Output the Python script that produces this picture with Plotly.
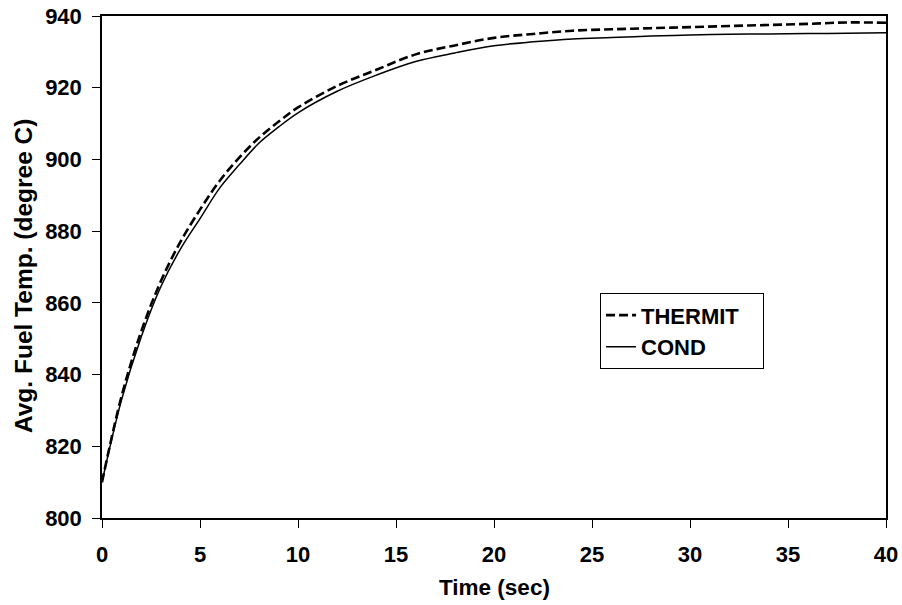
import plotly.graph_objects as go

time_s = [0, 1, 2, 3, 4, 5, 6, 7, 8, 9, 10, 12, 14, 16, 18, 20, 22, 24, 26, 28, 30, 32, 34, 36, 38, 40]
thermit = [810, 834, 852, 866, 877, 886, 894, 900.5, 906, 910.5, 914.5, 920.5, 925, 929.3, 931.8, 933.9,
           935.0, 935.9, 936.3, 936.6, 936.9, 937.2, 937.5, 937.8, 938.2, 938.1]
cond = [810, 833, 850.5, 864.5, 875, 883.5, 892, 898.5, 904.5, 909, 913, 919, 923.5, 927.3, 929.7, 931.7,
        932.8, 933.6, 934.0, 934.4, 934.7, 934.9, 935.0, 935.1, 935.2, 935.3]

x_ticks = [0, 5, 10, 15, 20, 25, 30, 35, 40]
y_ticks = [800, 820, 840, 860, 880, 900, 920, 940]
series_names = ["THERMIT\u00a0\u00a0\u00a0", "COND"]
x_title = "Time (sec)"
y_title = "Avg. Fuel Temp. (degree C)"

font_family = "Liberation Sans, Arial, sans-serif"

fig = go.Figure()
fig.add_trace(go.Scatter(x=time_s, y=thermit, mode="lines", name=series_names[0],
                         line=dict(color="black", width=2.6, dash="9px,4px", shape="spline")))
fig.add_trace(go.Scatter(x=time_s, y=cond, mode="lines", name=series_names[1],
                         line=dict(color="black", width=1.5, shape="spline")))

axis_common = dict(showline=True, mirror=True, linecolor="black", linewidth=1.5,
                   ticks="outside", ticklen=8, tickwidth=1.2, tickcolor="black",
                   showgrid=False, zeroline=False, automargin=False,
                   ticklabeloverflow="allow",
                   tickfont=dict(family=font_family, size=22, color="black", weight="bold"))

fig.update_xaxes(range=[0, 40], tickvals=x_ticks, ticktext=[str(v) for v in x_ticks],
                 ticklabelstandoff=8, **axis_common)
fig.update_yaxes(range=[800, 940], tickvals=y_ticks, ticktext=[str(v) for v in y_ticks],
                 ticklabelstandoff=6, **axis_common)

# axis titles as annotations for precise placement
fig.add_annotation(text=x_title, xref="paper", yref="paper", x=0.5, y=0, yshift=-69,
                   showarrow=False, xanchor="center", yanchor="middle",
                   font=dict(family=font_family, size=22.5, color="black", weight="bold"))
fig.add_annotation(text=y_title, xref="paper", yref="paper", x=0, y=0.482, xshift=-79,
                   showarrow=False, xanchor="center", yanchor="middle", textangle=-90,
                   font=dict(family=font_family, size=24.5, color="black", weight="bold"))

fig.update_layout(
    width=902, height=605,
    margin=dict(l=102, r=16, t=16, b=87),
    paper_bgcolor="white", plot_bgcolor="white",
    showlegend=True,
    legend=dict(x=0.635, y=0.448, xanchor="left", yanchor="top",
                bgcolor="white", bordercolor="black", borderwidth=1.2,
                font=dict(family=font_family, size=22, color="black", weight="bold"),
                tracegroupgap=0, itemwidth=30),
)

# remove the default 8px page margin so the figure sits at the window's top-left corner
fig.write_html("out.html",
               config={"displayModeBar": False},
               post_script="document.body.style.margin='0';document.body.style.overflow='hidden';")
